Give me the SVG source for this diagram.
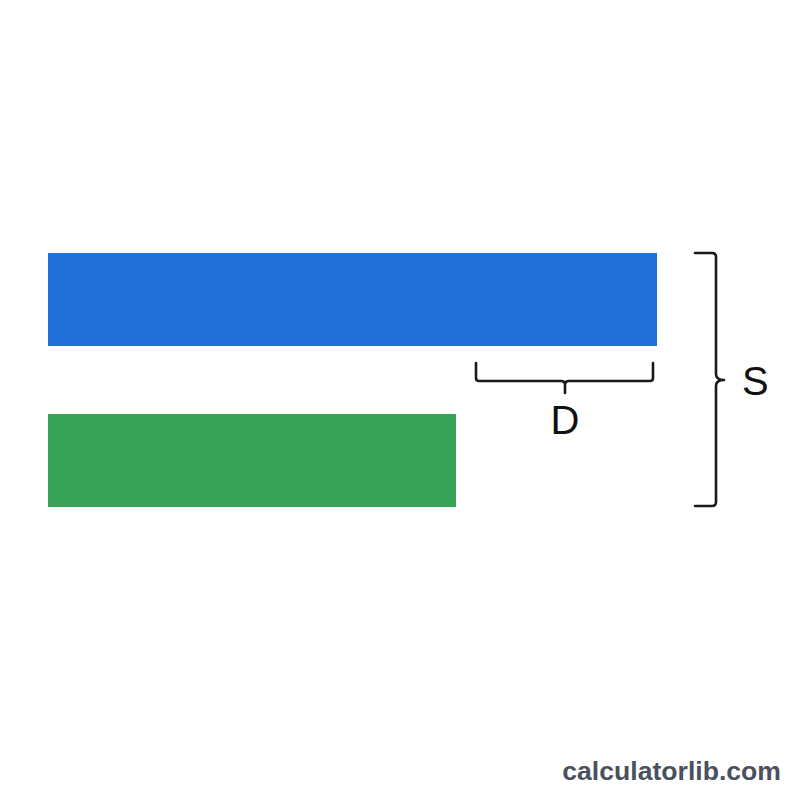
<svg xmlns="http://www.w3.org/2000/svg" width="800" height="800" viewBox="0 0 800 800">
<style>
.br{fill:none;stroke:#1a1a1a;stroke-width:2.6;stroke-linecap:round;stroke-linejoin:round}
.lbl{font-family:"Liberation Sans",Arial,sans-serif;font-size:40px;fill:#111}
.wm{font-family:"Liberation Sans",Arial,sans-serif;font-size:26.6px;font-weight:bold;fill:#4a505c}
</style>
<rect width="800" height="800" fill="#ffffff"/>
<g id="bar-blue"><rect x="48" y="253" width="609" height="93" fill="#206fd6"/></g>
<g id="bar-green"><rect x="48" y="414" width="408" height="93" fill="#38a457"/></g>
<g id="connectors">
<path class="br" d="M476,363 V378 Q476,381 479,381 H561 Q565,381 565,385 V393 M565,393 V385 Q565,381 569,381 H650 Q653,381 653,378 V363"/>
<path class="br" d="M695,253 H712 Q716,253 716,257 V374 Q716,380 724,380 Q716,380 716,386 V502 Q716,506 712,506 H695"/>
</g>
<g id="label-D"><text class="lbl" x="565" y="434" text-anchor="middle">D</text></g>
<g id="label-S"><text class="lbl" x="742" y="395">S</text></g>
<text class="wm" x="781" y="780" text-anchor="end">calculatorlib.com</text>
</svg>
